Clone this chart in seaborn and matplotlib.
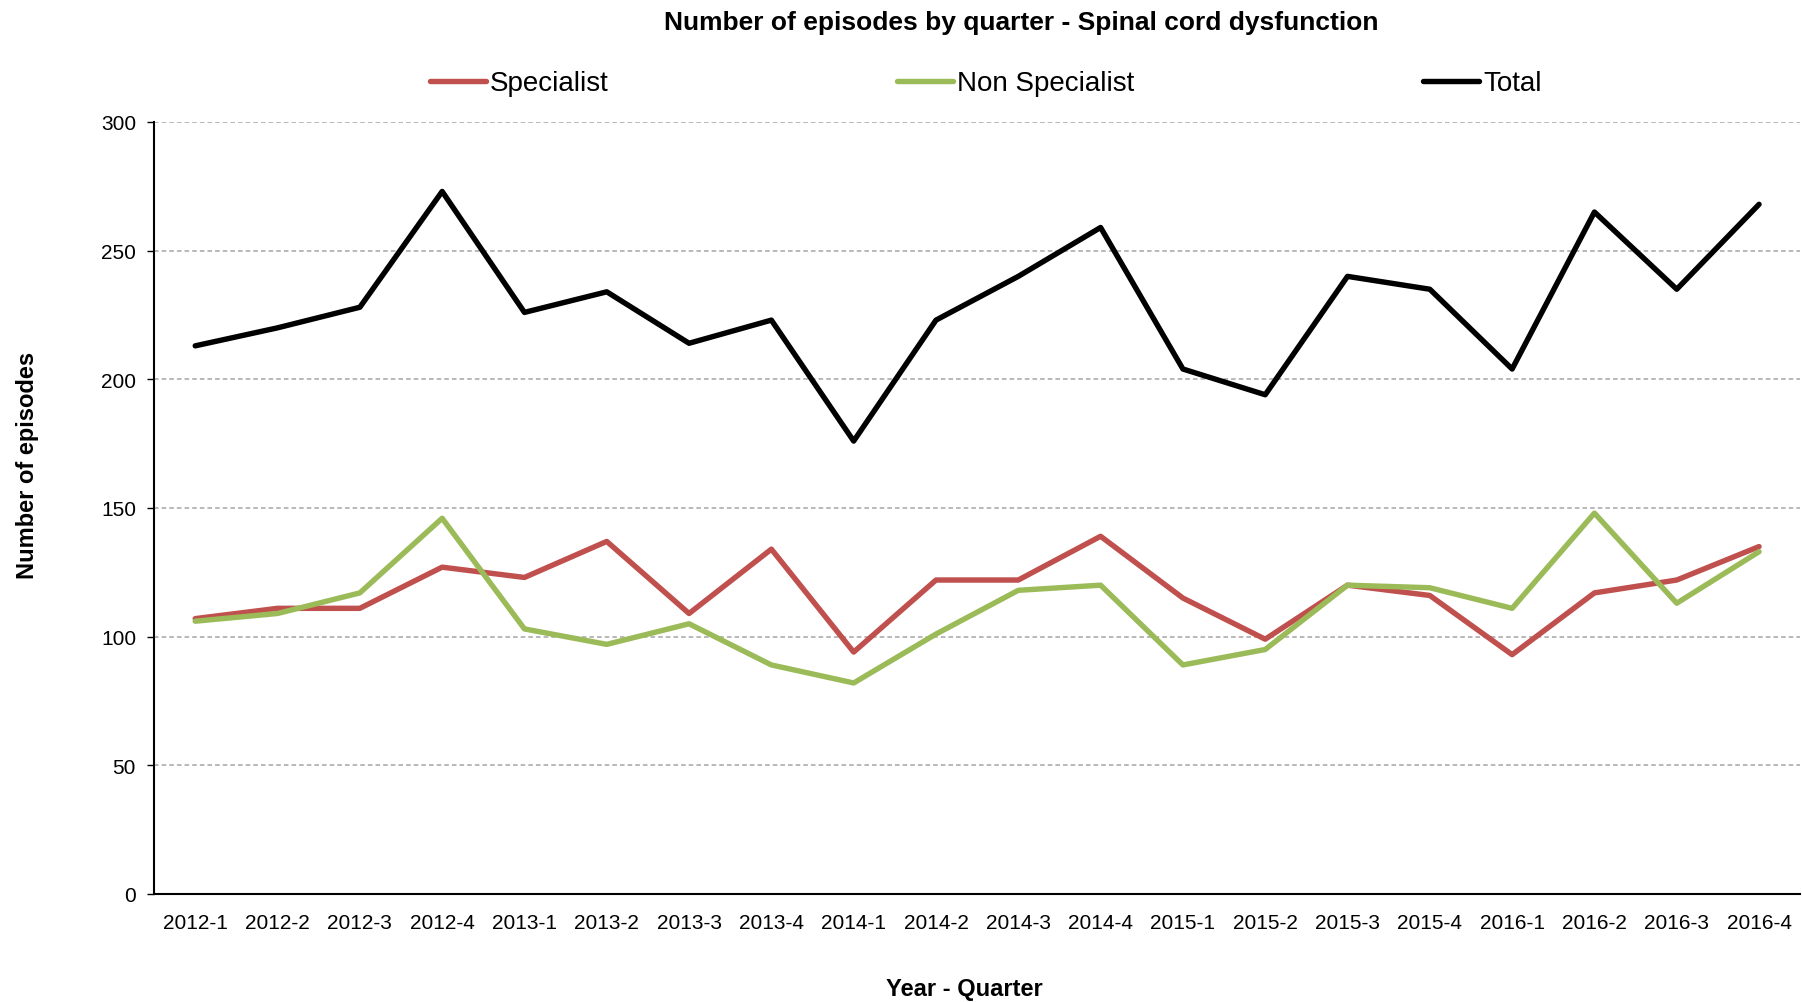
import pandas as pd
import numpy as np
import seaborn as sns
import matplotlib.pyplot as plt

quarters = ["2012-1", "2012-2", "2012-3", "2012-4",
            "2013-1", "2013-2", "2013-3", "2013-4",
            "2014-1", "2014-2", "2014-3", "2014-4",
            "2015-1", "2015-2", "2015-3", "2015-4",
            "2016-1", "2016-2", "2016-3", "2016-4"]
specialist = [107, 111, 111, 127, 123, 137, 109, 134, 94, 122,
              122, 139, 115, 99, 120, 116, 93, 117, 122, 135]
non_specialist = [106, 109, 117, 146, 103, 97, 105, 89, 82, 101,
                  118, 120, 89, 95, 120, 119, 111, 148, 113, 133]
total = [213, 220, 228, 273, 226, 234, 214, 223, 176, 223,
         240, 259, 204, 194, 240, 235, 204, 265, 235, 268]

series = ["Specialist", "Non Specialist", "Total"]
colors = ["#C0504D", "#9BBB59", "#000000"]

df = pd.DataFrame({
    "quarter": quarters * 3,
    "episodes": specialist + non_specialist + total,
    "series": np.repeat(series, len(quarters)),
})

sns.set_style("white")
plt.rcParams["font.family"] = ["Liberation Sans Narrow", "Liberation Sans", "DejaVu Sans"]
plt.rcParams["text.color"] = "black"
plt.rcParams["xtick.color"] = "black"
plt.rcParams["ytick.color"] = "black"

fig = plt.figure(figsize=(18.02, 10.03), dpi=100)
ax = fig.add_axes([0.0855, 0.1077, 0.9135, 0.7697])

sns.lineplot(data=df, x="quarter", y="episodes", hue="series",
             hue_order=series, palette=colors, linewidth=3.9,
             sort=False, legend=False, ax=ax)

ax.set_xlim(-0.5, len(quarters) - 0.5)
ax.set_ylim(0, 300)
ax.set_yticks(range(0, 301, 50))
ax.yaxis.grid(True, linestyle=(0, (3, 2)), color="#A6A6A6", linewidth=1.1)
ax.xaxis.grid(False)
ax.set_axisbelow(True)
for s in ["top", "right"]:
    ax.spines[s].set_visible(False)
for s in ["left", "bottom"]:
    ax.spines[s].set_color("black")
    ax.spines[s].set_linewidth(1.5)
ax.tick_params(axis="y", labelsize=15, length=5, width=1, left=True, pad=8)
ax.tick_params(axis="x", labelsize=15, length=0, pad=14)
ax.set_xlabel("")
ax.set_ylabel("")

fig.text(0.567, 0.977, "Number of episodes by quarter - Spinal cord dysfunction",
         ha="center", va="center", fontsize=19, fontweight="bold")
fig.text(0.535, 0.013, "Year - Quarter", ha="center", va="center",
         fontsize=17, fontweight="bold")
fig.text(0.015, 0.536, "Number of episodes", ha="center", va="center",
         rotation=90, fontsize=17, fontweight="bold")

handles = ax.get_lines()[:3]
fig.legend(handles, series, ncol=3, loc="center", bbox_to_anchor=(0.547, 0.916),
           frameon=False, fontsize=20, handlelength=2.0, handletextpad=0.15,
           columnspacing=10.4)

fig.savefig("out.png", dpi=100)
